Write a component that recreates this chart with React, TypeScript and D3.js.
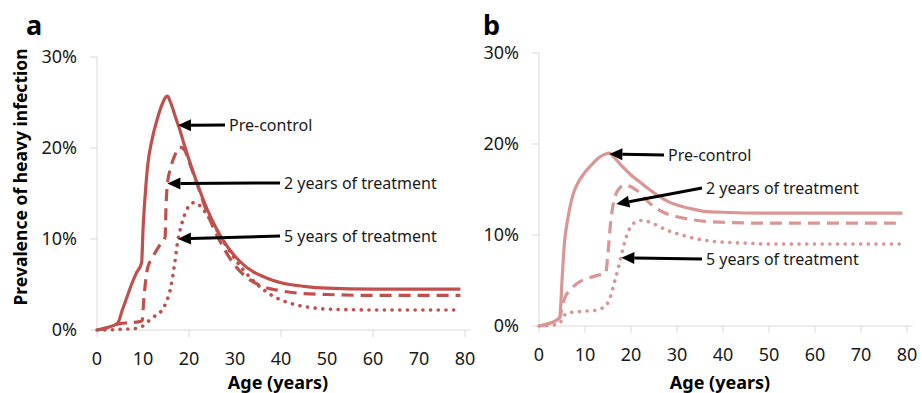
import React from 'react';
import * as d3 from 'd3';

// panel a (red)
const aPreAge = [0, 2, 4.5, 5.5, 6.5, 7.5, 8.5, 9.7, 10, 10.5, 11, 12, 13, 14, 15.3, 16, 17, 18, 19, 20, 22, 24, 26, 28, 30, 32, 34, 36, 38, 40, 45, 50, 60, 70, 79];
const aPreVal = [0, 0.25, 0.75, 2.2, 3.6, 5, 6.2, 7.4, 11, 15, 18, 21, 23, 24.6, 25.7, 25, 23.5, 22, 20.3, 18.7, 15.8, 13.2, 11.1, 9.4, 8.1, 7.1, 6.4, 5.9, 5.5, 5.2, 4.8, 4.6, 4.5, 4.5, 4.5];
const a2yAge = [0, 2, 4, 5, 7, 9, 9.8, 10.2, 10.6, 11, 12, 13, 14, 14.8, 15, 15.3, 16, 17, 18, 19, 20, 22, 24, 26, 28, 30, 32, 35, 40, 45, 50, 60, 79];
const a2yVal = [0, 0.2, 0.6, 0.7, 0.8, 0.9, 1.0, 3.5, 5.5, 6.8, 7.9, 8.8, 9.6, 10.2, 13.5, 16, 17.8, 19.3, 20.1, 19.8, 18.5, 15.7, 12.8, 10.5, 8.6, 7.1, 6.0, 5.0, 4.3, 4.0, 3.9, 3.8, 3.8];
const a5yAge = [0, 2, 4, 6, 8, 9.5, 11, 12.5, 14, 15, 16, 16.8, 17.5, 18.5, 19.5, 20.5, 21.3, 22.5, 24, 26, 28, 30, 32, 34, 36, 38, 40, 43, 46, 50, 60, 79];
const a5yVal = [0, 0, 0.05, 0.1, 0.15, 0.3, 0.9, 1.5, 2.1, 3, 4.6, 7, 9.6, 11.8, 13.2, 13.9, 14, 13.6, 12.6, 11, 9.3, 7.8, 6.5, 5.4, 4.5, 3.8, 3.3, 2.8, 2.5, 2.3, 2.2, 2.2];

// panel b (pink)
const bPreAge = [0, 2, 4.5, 4.7, 5, 5.3, 5.6, 6, 6.7, 7.5, 8.9, 10, 11.8, 13, 14, 15.3, 16, 18, 20, 22, 24, 26, 28, 30, 33, 36, 40, 50, 79];
const bPreVal = [0, 0.25, 0.9, 2, 5, 7.5, 9.5, 11, 13, 14.6, 16.1, 16.9, 17.9, 18.5, 18.8, 19, 18.7, 17.6, 16.6, 15.8, 15, 14.3, 13.7, 13.3, 12.9, 12.6, 12.5, 12.4, 12.4];
const b2yAge = [0, 2, 4.5, 5, 5.6, 6.5, 7.4, 9, 11, 13, 14.5, 15, 15.5, 16, 16.5, 17.6, 18.5, 19.5, 21.3, 23, 25, 27, 30, 33, 36, 40, 50, 79];
const b2yVal = [0, 0.25, 0.9, 2, 3.1, 3.8, 4.3, 4.9, 5.3, 5.6, 5.8, 8, 11, 13, 14.2, 15.2, 15.5, 15.4, 14.9, 14, 13.1, 12.5, 12, 11.7, 11.5, 11.4, 11.3, 11.3];
const b5yAge = [0, 3, 4.5, 5.3, 6, 9, 12, 13.5, 14.8, 15.7, 16.5, 17.3, 18, 18.8, 19.6, 20.6, 22, 23.5, 25, 28, 31, 34, 38, 45, 50, 79];
const b5yVal = [0, 0.1, 0.3, 1, 1.4, 1.6, 1.7, 1.9, 2.4, 3.5, 5, 6.5, 8, 9.5, 10.6, 11.3, 11.6, 11.5, 11.2, 10.5, 10, 9.6, 9.3, 9.1, 9.0, 9.0];

const yTicks = [0, 10, 20, 30];
const xLabels = [0, 10, 20, 30, 40, 50, 60, 70, 80];
const seriesNames = ['Pre-control', '2 years of treatment', '5 years of treatment'];

const FONT = "'Noto Sans', sans-serif";
const AXIS = '#d9d9d9';

const zip = (ages: number[], vals: number[]) => ages.map((a, i) => [a, vals[i]] as [number, number]);

type Panel = {
  letter: string;
  left: number;
  right: number;
  bottom: number;
  top: number;
  color: string;
  series: [number, number][][];
  xTicks: number[];
  arrows: { age: number; val: number; tx: number; ty: number }[];
  yTitle: boolean;
};

const panels: Panel[] = [
  {
    letter: 'a', left: 97, right: 465, bottom: 330, top: 57, color: '#c0504d',
    series: [zip(aPreAge, aPreVal), zip(a2yAge, a2yVal), zip(a5yAge, a5yVal)],
    xTicks: [0, 20, 40, 60, 80],
    arrows: [
      { age: 17.6, val: 22.5, tx: 225, ty: 125 },
      { age: 15.3, val: 16.1, tx: 280, ty: 183 },
      { age: 17.6, val: 10.0, tx: 280, ty: 236 },
    ],
    yTitle: true,
  },
  {
    letter: 'b', left: 539, right: 907, bottom: 326, top: 53, color: '#d99694',
    series: [zip(bPreAge, bPreVal), zip(b2yAge, b2yVal), zip(b5yAge, b5yVal)],
    xTicks: [0, 10, 20, 30, 40, 50, 60, 70, 80],
    arrows: [
      { age: 15.3, val: 18.9, tx: 664, ty: 155 },
      { age: 16.8, val: 13.4, tx: 702, ty: 188 },
      { age: 17.9, val: 7.5, tx: 702, ty: 259 },
    ],
    yTitle: false,
  },
];

const dashes = [null, '12 7', '0.1 7.6'];

function PanelView({ p }: { p: Panel }) {
  const x = d3.scaleLinear().domain([0, 80]).range([p.left, p.right]);
  const y = d3.scaleLinear().domain([0, 30]).range([p.bottom, p.top]);
  const line = d3.line<[number, number]>().x(d => x(d[0])).y(d => y(d[1])).curve(d3.curveMonotoneX);
  return (
    <g>
      <text x={p.letter === 'a' ? 26 : 483} y={35} fontFamily={FONT} fontWeight="bold" fontSize={27}>{p.letter}</text>
      {/* axes */}
      <line x1={p.left} x2={p.left} y1={y(30)} y2={p.bottom} stroke={AXIS} />
      <line x1={p.left} x2={x(81.2)} y1={p.bottom} y2={p.bottom} stroke={AXIS} />
      {yTicks.map(t => (
        <g key={'y' + t}>
          <line x1={p.left - 7} x2={p.left} y1={y(t)} y2={y(t)} stroke={AXIS} />
          <text x={p.left - 20} y={y(t)} dy="0.35em" textAnchor="end" fontFamily={FONT} fontSize={18} fill="#1a1a1a">{t + '%'}</text>
        </g>
      ))}
      {p.xTicks.map(t => (
        <line key={'xt' + t} x1={x(t)} x2={x(t)} y1={p.bottom} y2={p.bottom + 7} stroke={AXIS} />
      ))}
      {xLabels.map(t => (
        <text key={'xl' + t} x={x(t)} y={p.bottom + 35} textAnchor="middle" fontFamily={FONT} fontSize={18} fill="#1a1a1a">{t}</text>
      ))}
      <text x={(p.left + p.right) / 2 - 3} y={389} textAnchor="middle" fontFamily={FONT} fontWeight="bold" fontSize={18}>Age (years)</text>
      {p.yTitle && (
        <text transform="translate(27,177) rotate(-90)" textAnchor="middle" fontFamily={FONT} fontWeight="bold" fontSize={17.5}>Prevalence of heavy infection</text>
      )}
      {/* series */}
      {p.series.map((s, i) => (
        <path key={'s' + i} d={line(s) || ''} fill="none" stroke={p.color} strokeWidth={i === 2 ? 3.6 : 3.2}
          strokeDasharray={dashes[i] || undefined} strokeLinecap={i === 2 ? 'round' : 'butt'} strokeLinejoin="round" />
      ))}
      {/* arrows */}
      {p.arrows.map((a, i) => {
        const hx = x(a.age), hy = y(a.val);
        const ang = Math.atan2(a.ty - hy, a.tx - hx);
        const L = 13, W = 6;
        const bx = hx + L * Math.cos(ang), by = hy + L * Math.sin(ang);
        const px = -Math.sin(ang) * W, py = Math.cos(ang) * W;
        return (
          <g key={'a' + i}>
            <line x1={bx} y1={by} x2={a.tx} y2={a.ty} stroke="#000" strokeWidth={3} />
            <polygon points={`${hx},${hy} ${bx + px},${by + py} ${bx - px},${by - py}`} fill="#000" />
            <text x={a.tx + 4} y={a.ty} dy="0.35em" fontFamily={FONT} fontSize={16} fill="#1a1a1a">{seriesNames[i]}</text>
          </g>
        );
      })}
    </g>
  );
}

export default function App() {
  return (
    <svg width={922} height={393} style={{ position: 'fixed', left: 0, top: 0, background: '#fff' }}>
      <rect width={922} height={393} fill="#fff" />
      {panels.map(p => <PanelView key={p.letter} p={p} />)}
    </svg>
  );
}
